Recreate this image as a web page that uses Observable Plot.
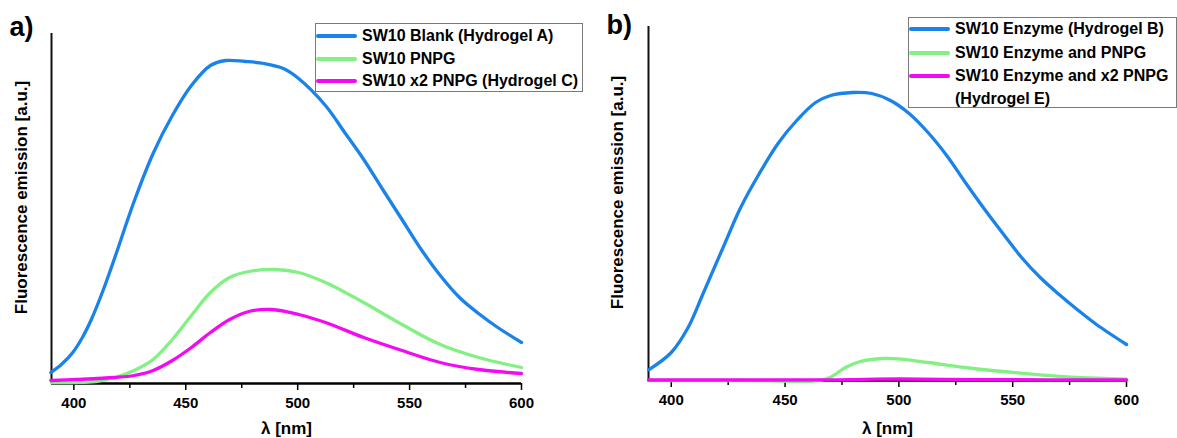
<!DOCTYPE html>
<html>
<head>
<meta charset="utf-8">
<script src="https://cdn.jsdelivr.net/npm/d3@7"></script>
<script src="https://cdn.jsdelivr.net/npm/@observablehq/plot@0.6"></script>
<style>
  html, body { margin: 0; padding: 0; background: #fff; }
  body { font-family: "Liberation Sans", Arial, sans-serif; color: #000; }
  #wrap { position: relative; width: 1177px; height: 438px; overflow: hidden; }
  .panel { position: absolute; top: 0; }
  .legend { position: absolute; box-sizing: border-box; border: 1px solid #7a7a7a; background: #fff; }
  .row { position: absolute; left: 0; height: 22px; line-height: 22px; white-space: nowrap;
         font-size: 16px; font-weight: bold; }
  .sw { position: absolute; left: 0; top: 9px; width: 41px; height: 4px; border-radius: 2px; }
  .lbl { position: absolute; left: 46px; top: 0; }
</style>
</head>
<body>
<div id="wrap"></div>
<script>
// ---------- shared axis data ----------
const xDomain = [390, 600];
const majorTicks = [400, 450, 500, 550, 600];
const minorTicks = [425, 475, 525, 575];
const xLabel = "λ [nm]";
const yLabel = "Fluorescence emission [a.u.]";
const colors = ["#1a83ea", "#82f082", "#f20af2"];

// ---------- panel a ----------
const labelsA = ["SW10 Blank (Hydrogel A)", "SW10 PNPG", "SW10 x2 PNPG (Hydrogel C)"];
const blankA_nm = [389.7, 394.4, 399.5, 403.8, 408, 413.2, 418.3, 426.9, 435.4, 444, 452.5, 461, 467.9, 476.5, 485, 493.6, 500.4, 512.4, 521, 529.5, 538, 546.6, 555.2, 563.7, 572.3, 580.8, 589.4, 600];
const blankA_v  = [11, 19, 31, 46, 65, 94, 126, 182, 230, 268, 298, 318, 323, 322, 320, 315, 305, 278, 251, 224, 194, 164, 134, 108, 86, 70, 56, 41];
const pnpgA_nm  = [390, 400, 410, 418.3, 426.9, 435.4, 444, 452.5, 461, 469.6, 478.2, 490.2, 500.4, 512.4, 529.5, 546.6, 563.7, 580.8, 600];
const pnpgA_v   = [1, 1, 2, 6, 13, 24, 44, 68, 91, 106, 112, 114, 111, 101, 81, 59, 39, 26, 16];
const x2A_nm    = [389.7, 401.2, 418.3, 426.9, 435.4, 444, 452.5, 461, 469.6, 478.2, 488.4, 500.4, 512.4, 529.5, 546.6, 563.7, 580.8, 600];
const x2A_v     = [3, 4, 6, 8, 13, 23, 36, 51, 64, 72, 74, 69, 61, 46, 33, 21, 14, 10];

// ---------- panel b ----------
const labelsB = ["SW10 Enzyme (Hydrogel B)", "SW10 Enzyme and PNPG", "SW10 Enzyme and x2 PNPG", "(Hydrogel E)"];
const enzB_nm  = [390.1, 400, 407.4, 414, 422.2, 430.5, 438.7, 446.9, 455.1, 463.4, 470, 479.8, 488.1, 496.3, 504.5, 512.8, 521, 529.2, 537.4, 545.7, 553.9, 562.1, 570.4, 578.6, 586.8, 600];
const enzB_v   = [10.7, 28, 53, 87, 130, 173, 207, 237, 260, 278, 285, 288, 287, 280, 267, 248, 225, 198, 172, 147, 123, 103, 86, 70.5, 56, 36];
const pnpgB_nm = [390, 430, 465, 470, 476.5, 483, 493, 499.6, 512.8, 529.2, 545.7, 562, 578.6, 600];
const pnpgB_v  = [0, 0, 0, 3.3, 13, 19, 22, 21.7, 18, 13, 9, 5.7, 3, 1.3];
const x2B_nm   = [390, 430, 470, 485, 500, 520, 550, 575, 600];
const x2B_v    = [0.5, 0.5, 0.6, 1.2, 1.5, 1.2, 0.8, 0.6, 0.5];

const FONT = "Liberation Sans, Arial, sans-serif";

function panel(o) {
  return Plot.plot({
    width: o.width, height: 438,
    marginLeft: o.ml, marginRight: o.mr, marginTop: o.mt, marginBottom: o.mb,
    x: { domain: xDomain },
    y: { domain: [0, o.yMax], axis: null },
    style: { fontFamily: FONT, background: "transparent", color: "#000", overflow: "visible" },
    marks: [
      Plot.axisX({ ticks: minorTicks, tickSize: 5, tickFormat: () => "", strokeWidth: 1.5, label: null }),
      Plot.axisX({ ticks: majorTicks, tickSize: 7, tickPadding: 7, fontSize: 15, fontWeight: "bold",
                   tickFormat: d => String(d), strokeWidth: 1.5, label: null }),
      Plot.ruleX([xDomain[0]], { stroke: "#111", strokeWidth: 2 }),
      Plot.ruleY([0], { stroke: "#000", strokeWidth: 2.5 }),
      ...o.series.map(s => Plot.line(s.nm, { x: s.nm, y: s.v, stroke: s.color, strokeWidth: 3.3,
                                            curve: "catmull-rom", strokeLinejoin: "round" })),
      Plot.text([o.letter], { frameAnchor: "top-left", textAnchor: "start", lineAnchor: "bottom",
                              dx: o.letterDx, dy: o.letterDy, fontSize: 27, fontWeight: "bold" }),
      Plot.text([xLabel], { frameAnchor: "bottom", textAnchor: "middle", lineAnchor: "middle", dy: o.xlabDy,
                            fontSize: 17, fontWeight: "bold" }),
      Plot.text([yLabel], { frameAnchor: "left", textAnchor: "middle", rotate: -90, lineAnchor: "middle",
                            dx: o.ylabDx, dy: -11, fontSize: 17, fontWeight: "bold" })
    ]
  });
}

const wrap = document.getElementById("wrap");

const pa = panel({
  width: 590, ml: 51, mr: 69, mt: 33, mb: 55, yMax: 350,
  letter: "a)", letterDx: -42, letterDy: 2, xlabDy: 45, ylabDx: -30,
  series: [
    { nm: blankA_nm, v: blankA_v, color: colors[0] },
    { nm: pnpgA_nm, v: pnpgA_v, color: colors[1] },
    { nm: x2A_nm, v: x2A_v, color: colors[2] }
  ]
});
pa.classList.add("panel"); pa.style.left = "0px";
wrap.appendChild(pa);

const pb = panel({
  width: 579, ml: 50, mr: 51, mt: 26, mb: 58, yMax: 354,
  letter: "b)", letterDx: -42, letterDy: 7, xlabDy: 48, ylabDx: -31,
  series: [
    { nm: enzB_nm, v: enzB_v, color: colors[0] },
    { nm: pnpgB_nm, v: pnpgB_v, color: colors[1] },
    { nm: x2B_nm, v: x2B_v, color: colors[2] }
  ]
});
pb.classList.add("panel"); pb.style.left = "598px";
wrap.appendChild(pb);

// ---------- legends (HTML) ----------
function legend(left, top, width, height, rowCenters, labels, swatchColors) {
  const box = document.createElement("div");
  box.className = "legend";
  Object.assign(box.style, { left: left + "px", top: top + "px", width: width + "px", height: height + "px" });
  labels.forEach((t, i) => {
    const r = document.createElement("div");
    r.className = "row";
    r.style.top = (rowCenters[i] - 11 - 1) + "px";
    if (swatchColors[i]) {
      const sw = document.createElement("span");
      sw.className = "sw";
      sw.style.background = swatchColors[i];
      r.appendChild(sw);
    }
    const l = document.createElement("span");
    l.className = "lbl";
    l.textContent = t;
    r.appendChild(l);
    box.appendChild(r);
  });
  wrap.appendChild(box);
}
legend(315, 23, 268, 69, [13, 36, 58], labelsA, colors);
legend(908, 17, 269, 91, [12, 36, 59, 82], labelsB, [colors[0], colors[1], colors[2], null]);
</script>
</body>
</html>
